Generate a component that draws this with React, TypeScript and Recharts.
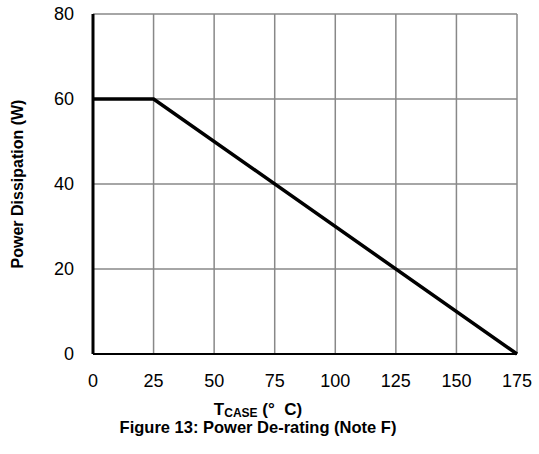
import { LineChart, Line, XAxis, YAxis, CartesianGrid } from 'recharts'

const tempC = [0, 25, 175]
const powerW = [60, 60, 0]
const xTicks = [0, 25, 50, 75, 100, 125, 150, 175]
const yTicks = [0, 20, 40, 60, 80]

const data = tempC.map((t, i) => ({ t, p: powerW[i] }))

const FONT = '"Liberation Sans", Arial, sans-serif'

function XTitle() {
  return (
    <g fontFamily={FONT} fontWeight="bold" fill="#000">
      <text x={258} y={415} textAnchor="middle" fontSize={17}>
        <tspan>T</tspan>
        <tspan fontSize={12} dy={2}>CASE</tspan>
        <tspan dy={-2}>{' (°\u00A0\u00A0C)'}</tspan>
      </text>
      <text x={258} y={433} textAnchor="middle" fontSize={16.5}>
        Figure 13: Power De-rating (Note F)
      </text>
    </g>
  )
}

function YTitle() {
  return (
    <text
      x={23}
      y={184}
      transform="rotate(-90 23 184)"
      textAnchor="middle"
      fontFamily={FONT}
      fontWeight="bold"
      fontSize={16}
      fill="#000"
    >
      Power Dissipation (W)
    </text>
  )
}

export default function App() {
  return (
    <div style={{ position: 'absolute', left: 0, top: 0, background: '#fff' }}>
      <LineChart
        width={539}
        height={454}
        data={data}
        margin={{ top: 14, right: 22, bottom: 70, left: 0 }}
      >
        <CartesianGrid stroke="#888" strokeWidth={1.5} />
        <XAxis
          dataKey="t"
          type="number"
          domain={[0, 175]}
          ticks={xTicks}
          tickLine={false}
          axisLine={{ stroke: '#000', strokeWidth: 2 }}
          tick={{ fill: '#000', fontSize: 18, fontFamily: FONT }}
          tickMargin={14}
          label={{ content: () => <XTitle /> }}
        />
        <YAxis
          type="number"
          domain={[0, 80]}
          ticks={yTicks}
          width={93}
          tickLine={false}
          axisLine={{ stroke: '#000', strokeWidth: 3 }}
          tick={{ fill: '#000', fontSize: 18, fontFamily: FONT }}
          tickMargin={13}
          label={{ content: () => <YTitle /> }}
        />
        <Line
          dataKey="p"
          stroke="#000"
          strokeWidth={3.5}
          dot={false}
          isAnimationActive={false}
        />
      </LineChart>
    </div>
  )
}
